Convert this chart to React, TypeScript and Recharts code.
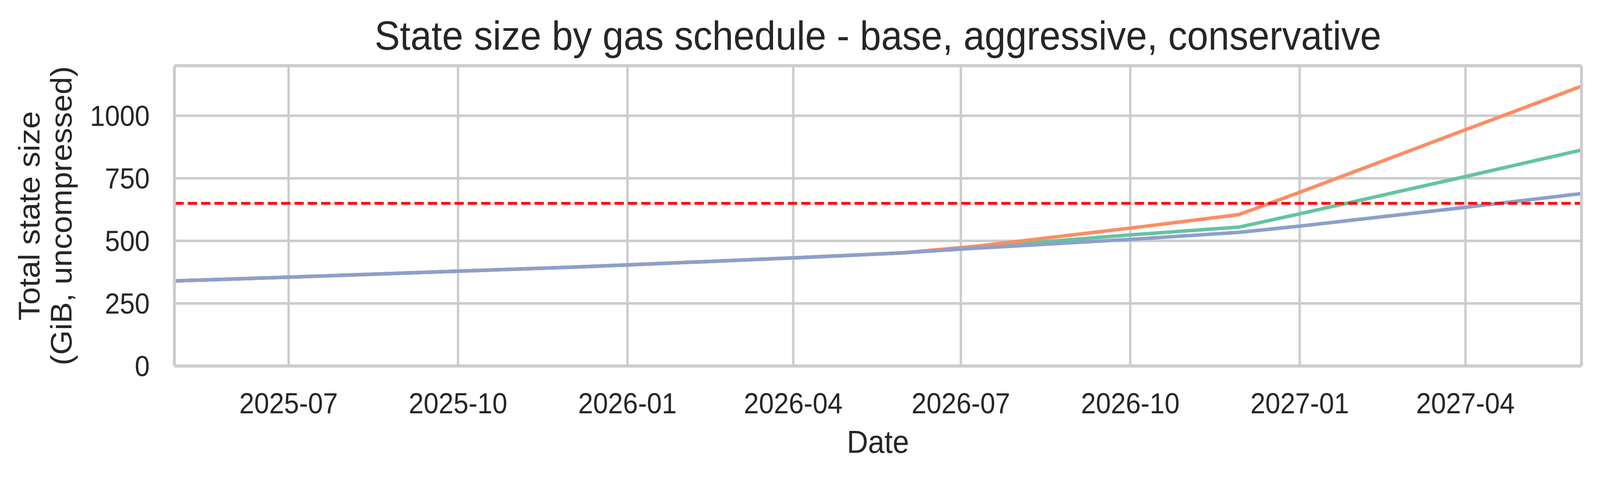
import { LineChart, Line, XAxis, YAxis, CartesianGrid, ReferenceLine } from 'recharts'

const FONT = '"Liberation Sans", Arial, sans-serif'
const TEXT = '#262626'
const GRID = '#cccccc'

const CHART_W = 4403
const CHART_H = 1225

// model dates (piecewise growth, kinks where the schedules change)
const dates = [
    '2025-04-30', '2025-07-01', '2025-10-01', '2025-12-02', '2026-01-01', '2026-04-01', '2026-05-30',
    '2026-07-10', '2026-10-01', '2026-11-29', '2027-01-01', '2027-04-01', '2027-06-03',
]
const base = [340, 355, 379, 395, 404, 432, 452, 475, 524, 555, 608, 757, 863]
const aggressive = [340, 355, 379, 395, 404, 432, 452, 479, 551, 605, 694, 944, 1118]
const conservative = [340, 355, 379, 395, 404, 432, 452, 471, 506, 534, 559, 634, 689]

const xTickDates = ['2025-07-01', '2025-10-01', '2026-01-01', '2026-04-01', '2026-07-01', '2026-10-01', '2027-01-01', '2027-04-01']
const xTickLabels = ['2025-07', '2025-10', '2026-01', '2026-04', '2026-07', '2026-10', '2027-01', '2027-04']
const yTicks = [0, 250, 500, 750, 1000]
const THRESHOLD = 650

const toTime = (d: string) => Date.parse(d + 'T00:00:00Z')

const chartData = dates.map((d, i) => ({
    t: toTime(d),
    base: base[i],
    aggressive: aggressive[i],
    conservative: conservative[i],
}))

const xTicks = xTickDates.map(toTime)
const xDomain = [toTime(dates[0]), toTime(dates[dates.length - 1])]
const yDomain = [0, 1200]

const spine = { stroke: GRID, strokeWidth: 8 }

export default function App() {
    // the browser window can be narrower than the figure, so squeeze it to fit
    const fit = Math.min(1, (typeof window !== 'undefined' ? window.innerWidth : CHART_W) / CHART_W)

    return (
        <div style={{
            position: 'absolute', left: 0, top: 0, width: CHART_W, height: CHART_H, background: '#fff',
            transform: `scale(${fit}, 1)`, transformOrigin: '0 0',
        }}>
            <LineChart width={CHART_W} height={CHART_H} data={chartData} margin={{ top: 0, right: 0, bottom: 0, left: 0 }}>
                <CartesianGrid stroke={GRID} strokeWidth={6.5} horizontalValues={yTicks} verticalValues={xTicks} />
                <XAxis
                    dataKey="t"
                    type="number"
                    domain={xDomain}
                    ticks={xTicks}
                    interval={0}
                    allowDataOverflow
                    height={289}
                    tickSize={0}
                    tickMargin={68}
                    tickLine={false}
                    axisLine={spine}
                    tick={{ fontSize: 74, fill: TEXT, fontFamily: FONT }}
                    tickFormatter={(v: number) => xTickLabels[xTicks.indexOf(v)] ?? ''}
                    label={{
                        content: ({ viewBox }: any) => (
                            <text x={viewBox.x + viewBox.width / 2} y={viewBox.y + 222} textAnchor="middle"
                                fontSize={81} fill={TEXT} fontFamily={FONT}>Date</text>
                        ),
                    }}
                />
                <XAxis
                    xAxisId="top"
                    orientation="top"
                    dataKey="t"
                    type="number"
                    domain={xDomain}
                    allowDataOverflow
                    height={168}
                    tick={false}
                    tickLine={false}
                    axisLine={spine}
                    label={{
                        content: ({ viewBox }: any) => (
                            <text x={viewBox.x + viewBox.width / 2} y={127} textAnchor="middle"
                                fontSize={104.5} fill={TEXT} fontFamily={FONT}>
                                State size by gas schedule - base, aggressive, conservative
                            </text>
                        ),
                    }}
                />
                <YAxis
                    type="number"
                    domain={yDomain}
                    ticks={yTicks}
                    interval={0}
                    allowDataOverflow
                    width={480}
                    tickSize={0}
                    tickMargin={68}
                    tickLine={false}
                    axisLine={spine}
                    tick={{ fontSize: 74, fill: TEXT, fontFamily: FONT }}
                    label={{
                        content: ({ viewBox }: any) => {
                            const cy = viewBox.y + viewBox.height / 2
                            return (
                                <g fontSize={81} fill={TEXT} fontFamily={FONT}>
                                    <text x={109} y={cy} textAnchor="middle" transform={`rotate(-90, 109, ${cy})`}>Total state size</text>
                                    <text x={197} y={cy} textAnchor="middle" transform={`rotate(-90, 197, ${cy})`}>(GiB, uncompressed)</text>
                                </g>
                            )
                        },
                    }}
                />
                <YAxis
                    yAxisId="right"
                    orientation="right"
                    type="number"
                    domain={yDomain}
                    allowDataOverflow
                    width={51}
                    tick={false}
                    tickLine={false}
                    axisLine={spine}
                />
                <Line dataKey="base" stroke="#66c2a5" strokeWidth={9} dot={false} activeDot={false}
                    strokeLinecap="round" strokeLinejoin="round" isAnimationActive={false} />
                <Line dataKey="aggressive" stroke="#fc8d62" strokeWidth={9} dot={false} activeDot={false}
                    strokeLinecap="round" strokeLinejoin="round" isAnimationActive={false} />
                <Line dataKey="conservative" stroke="#8da0cb" strokeWidth={9} dot={false} activeDot={false}
                    strokeLinecap="round" strokeLinejoin="round" isAnimationActive={false} />
                <ReferenceLine y={THRESHOLD} stroke="#ff0000" strokeWidth={7} strokeDasharray="25.6 11.1" />
            </LineChart>
        </div>
    )
}
